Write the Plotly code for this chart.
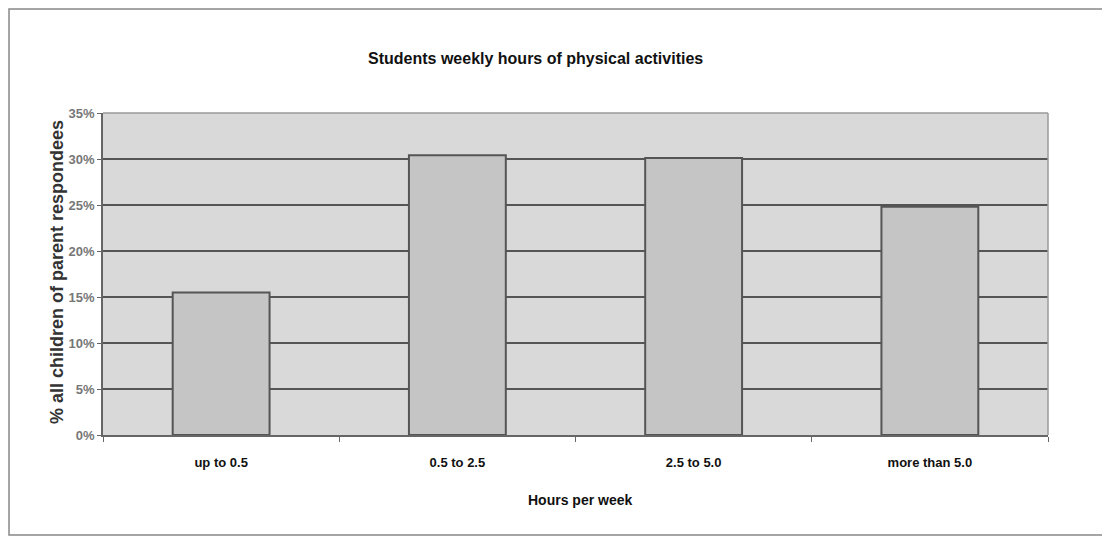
import plotly.graph_objects as go

categories = ["up to 0.5", "0.5 to 2.5", "2.5 to 5.0", "more than 5.0"]
values = [15.5, 30.4, 30.1, 24.8]
y_ticks = [0, 5, 10, 15, 20, 25, 30, 35]
y_tick_labels = ["0%", "5%", "10%", "15%", "20%", "25%", "30%", "35%"]

SANS = "Liberation Sans, Arial, sans-serif"

# page offset from default body margin
OFF = 8
L, T = 103 - OFF, 113 - OFF
PW, PH = 945, 322
R = 1110 - (L + PW)
B = 538 - (T + PH)


def px(x):
    return (x - OFF - L) / PW


def py(y):
    return (T + PH - (y - OFF)) / PH


fig = go.Figure()
fig.add_trace(go.Bar(
    x=categories, y=values,
    marker=dict(color="#c5c5c5", line=dict(color="#555555", width=2)),
    width=0.41,
))

fig.update_layout(
    width=1110, height=538,
    margin=dict(l=L, r=R, t=T, b=B),
    paper_bgcolor="white",
    plot_bgcolor="#d9d9d9",
    showlegend=False,
    xaxis=dict(
        showgrid=False, showline=True, linecolor="#666666", linewidth=1.5,
        ticks="outside", tickson="boundaries", ticklen=5, tickcolor="#666666",
        tickfont=dict(family=SANS, size=13, color="#111111", weight="bold"),
        ticklabelstandoff=15,
    ),
    yaxis=dict(
        range=[0, 35], tickvals=y_ticks, ticktext=y_tick_labels,
        showgrid=True, gridcolor="#555555", gridwidth=1.5,
        showline=True, linecolor="#666666", linewidth=1.5,
        ticks="outside", ticklen=4, tickcolor="#666666",
        tickfont=dict(family=SANS, size=13, color="#777777", weight="bold"),
        zeroline=False,
    ),
    annotations=[
        dict(text="<b>Students weekly hours of physical activities</b>", x=px(535), y=py(58),
             xref="paper", yref="paper", xanchor="center", yanchor="middle", showarrow=False,
             font=dict(family=SANS, size=16, color="#111111")),
        dict(text="<b>Hours per week</b>", x=px(580), y=py(500),
             xref="paper", yref="paper", xanchor="center", yanchor="middle", showarrow=False,
             font=dict(family=SANS, size=14, color="#111111")),
        dict(text="<b>% all children of parent respondees</b>", x=px(57), y=py(272),
             xref="paper", yref="paper", xanchor="center", yanchor="middle", showarrow=False,
             textangle=-90, font=dict(family=SANS, size=18, color="#333333")),
    ],
    shapes=[
        # plot area top and right border (lighter)
        dict(type="line", xref="paper", yref="paper", x0=0, x1=1, y0=1, y1=1,
             line=dict(color="#9a9a9a", width=1.5)),
        dict(type="line", xref="paper", yref="paper", x0=1, x1=1, y0=0, y1=1,
             line=dict(color="#9a9a9a", width=1.5)),
        # outer chart frame
        dict(type="rect", xref="paper", yref="paper",
             x0=px(9), x1=px(1104), y0=py(535), y1=py(9),
             line=dict(color="#888888", width=1.5), layer="below"),
    ],
)

fig.write_html("out.html")
